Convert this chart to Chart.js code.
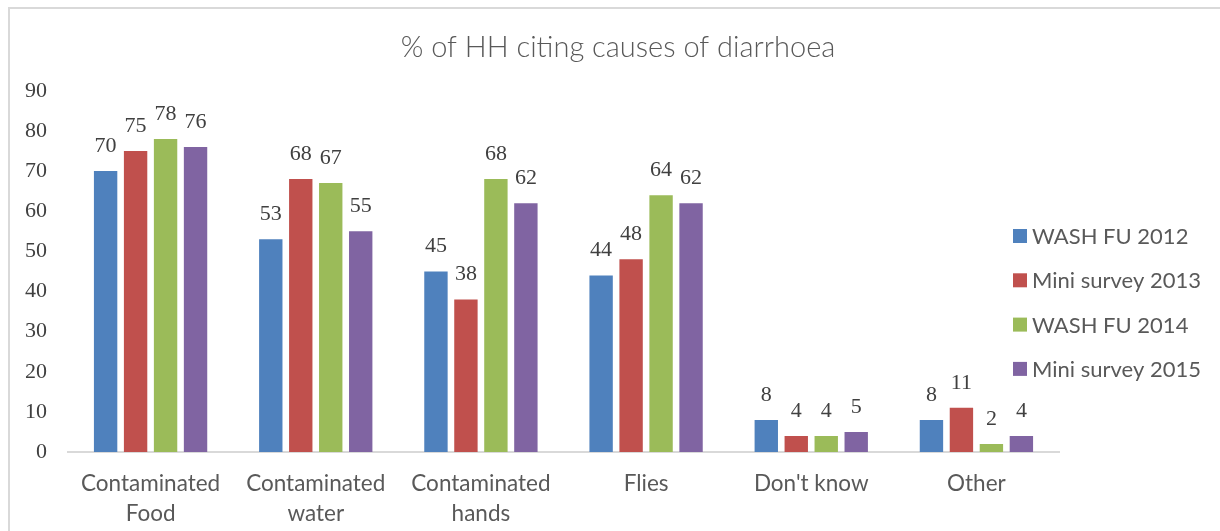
<!DOCTYPE html>
<html>
<head>
<meta charset="utf-8">
<script src="https://cdn.jsdelivr.net/npm/chart.js@4"></script>
<style>
  html, body { margin: 0; padding: 0; background: #ffffff; overflow: hidden; }
  #wrap { position: relative; width: 1220px; height: 531px; }
  #frame { position: absolute; left: 8px; top: 7px; width: 1300px; height: 600px;
           border-left: 2px solid #d9d9d9; border-top: 2px solid #d9d9d9; }
  canvas { position: absolute; left: 0; top: 0; }
</style>
</head>
<body>
<div id="wrap">
  <div id="frame"></div>
  <canvas id="c" width="1220" height="531"></canvas>
</div>
<script>
const categories = [["Contaminated", "Food"], ["Contaminated", "water"], ["Contaminated", "hands"], "Flies", "Don't know", "Other"];
const seriesNames = ["WASH FU 2012", "Mini survey 2013", "WASH FU 2014", "Mini survey 2015"];
const wash2012 = [70, 53, 45, 44, 8, 8];
const mini2013 = [75, 68, 38, 48, 4, 11];
const wash2014 = [78, 67, 68, 64, 4, 2];
const mini2015 = [76, 55, 62, 62, 5, 4];
const seriesColors = ["#4F81BD", "#C0504D", "#9BBB59", "#8064A2"];
const yTicks = [0, 10, 20, 30, 40, 50, 60, 70, 80, 90];
const titleText = "% of HH citing causes of diarrhoea";

const seriesValues = [wash2012, mini2013, wash2014, mini2015];

const valueLabels = {
  id: 'valueLabels',
  afterDatasetsDraw(chart) {
    const ctx = chart.ctx;
    ctx.save();
    ctx.font = '22px "Liberation Serif"';
    ctx.fillStyle = '#404040';
    ctx.textAlign = 'center';
    ctx.textBaseline = 'alphabetic';
    chart.data.datasets.forEach((ds, i) => {
      const meta = chart.getDatasetMeta(i);
      meta.data.forEach((bar, j) => {
        ctx.fillText(String(ds.data[j]), bar.x, bar.y - 19);
      });
    });
    ctx.restore();
  }
};

const sideLegend = {
  id: 'sideLegend',
  afterDraw(chart) {
    const ctx = chart.ctx;
    ctx.save();
    ctx.font = '22px Lato';
    ctx.textBaseline = 'middle';
    ctx.textAlign = 'left';
    const x0 = 1013, y0 = 236, step = 44.3;
    chart.data.datasets.forEach((ds, i) => {
      const y = y0 + i * step;
      ctx.fillStyle = ds.backgroundColor;
      ctx.fillRect(x0, y - 7, 14, 14);
      ctx.fillStyle = '#595959';
      ctx.fillText(ds.label, x0 + 19, y + 1);
    });
    ctx.restore();
  }
};

new Chart(document.getElementById('c'), {
  type: 'bar',
  data: {
    labels: categories,
    datasets: seriesNames.map((name, i) => ({
      label: name,
      data: seriesValues[i],
      backgroundColor: seriesColors[i],
      borderWidth: 0,
      categoryPercentage: 0.726,
      barPercentage: 0.78
    }))
  },
  options: {
    responsive: false,
    animation: false,
    devicePixelRatio: 1,
    layout: { padding: { left: 16, right: 0, top: 0, bottom: 0 } },
    plugins: {
      legend: { display: false },
      tooltip: { enabled: false },
      title: {
        display: true,
        text: titleText,
        color: '#595959',
        font: { family: 'Lato', size: 29, weight: 300, lineHeight: 1.2 },
        padding: { top: 30, bottom: 26 }
      }
    },
    scales: {
      x: {
        grid: { display: false, drawTicks: false },
        border: { display: true, color: '#d9d9d9', width: 2 },
        afterFit(scale) { scale.height = 79; },
        ticks: {
          color: '#595959',
          font: { family: 'Lato', size: 22.5, lineHeight: 1.333 },
          padding: 17,
          maxRotation: 0,
          autoSkip: false
        }
      },
      y: {
        min: 0,
        max: 90,
        grid: { display: false, drawTicks: false },
        border: { display: false },
        afterBuildTicks(scale) { scale.ticks = yTicks.map(v => ({ value: v })); },
        afterFit(scale) { scale.width = 52; },
        ticks: {
          color: '#404040',
          font: { family: 'Liberation Serif', size: 22 },
          padding: 21
        }
      },
      yRight: {
        position: 'right',
        min: 0,
        max: 90,
        grid: { display: false, drawTicks: false },
        border: { display: false },
        ticks: { display: false },
        afterFit(scale) { scale.width = 161; }
      }
    }
  },
  plugins: [valueLabels, sideLegend]
});
</script>
</body>
</html>
